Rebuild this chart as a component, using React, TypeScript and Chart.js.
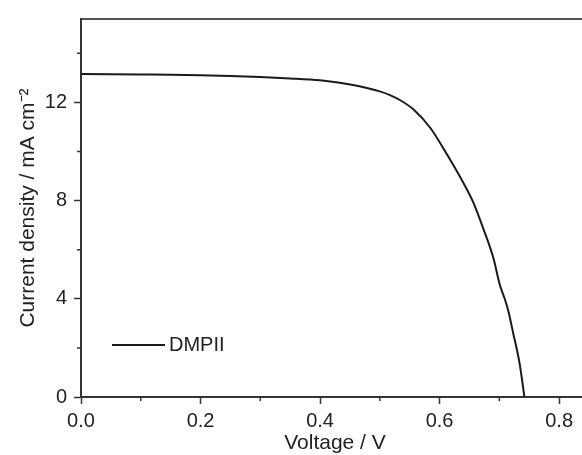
import React, { useEffect, useRef } from "react";
import { Chart, registerables } from "chart.js";

Chart.register(...registerables);

// ---- data ----
const VOLTAGE = [
  0, 0.05, 0.1, 0.15, 0.2, 0.25, 0.3, 0.35, 0.4, 0.43, 0.455, 0.48, 0.5, 0.517,
  0.535, 0.556, 0.584, 0.612, 0.639, 0.656, 0.673, 0.69, 0.701, 0.709, 0.715,
  0.723, 0.734, 0.742,
];
const CURRENT = [
  13.16, 13.15, 13.14, 13.13, 13.11, 13.08, 13.04, 12.98, 12.9, 12.81, 12.71, 12.58,
  12.45, 12.3, 12.08, 11.72, 10.98, 9.9, 8.76, 7.95, 6.87, 5.66, 4.55, 4.0, 3.5,
  2.62, 1.35, 0.0,
];
const SERIES_LABEL = "DMPII";
const X_MAJOR = [0, 0.2, 0.4, 0.6, 0.8];
const X_MINOR = [0.1, 0.3, 0.5, 0.7];
const Y_MAJOR = [0, 4, 8, 12];
const Y_MINOR = [2, 6, 10, 14];
const X_TITLE = "Voltage / V";
const Y_TITLE = "Current density / mA cm\u207B\u00B2";

const FONT = "'Liberation Sans', Arial, Helvetica, sans-serif";
const AXIS_COLOR = "#333";
const TEXT_COLOR = "#222";

const minorTicksPlugin = {
  id: "minorTicks",
  afterDraw(chart: any) {
    const { ctx, chartArea, scales } = chart;
    ctx.save();
    ctx.strokeStyle = AXIS_COLOR;
    ctx.lineWidth = 1.5;
    ctx.beginPath();
    X_MINOR.forEach((v) => {
      const px = scales.x.getPixelForValue(v);
      ctx.moveTo(px, chartArea.bottom);
      ctx.lineTo(px, chartArea.bottom + 4);
    });
    Y_MINOR.forEach((v) => {
      const py = scales.y.getPixelForValue(v);
      ctx.moveTo(chartArea.left, py);
      ctx.lineTo(chartArea.left - 4, py);
    });
    ctx.stroke();
    ctx.restore();
  },
};

const legendPlugin = {
  id: "insideLegend",
  afterDraw(chart: any) {
    const { ctx, chartArea } = chart;
    const ds = chart.data.datasets[0];
    const x0 = chartArea.left + 31;
    const y0 = 345;
    ctx.save();
    ctx.strokeStyle = ds.borderColor;
    ctx.lineWidth = ds.borderWidth;
    ctx.beginPath();
    ctx.moveTo(x0, y0);
    ctx.lineTo(x0 + 53, y0);
    ctx.stroke();
    ctx.fillStyle = TEXT_COLOR;
    ctx.font = `20px ${FONT}`;
    ctx.textBaseline = "middle";
    ctx.textAlign = "left";
    ctx.fillText(ds.label, x0 + 57, y0);
    ctx.restore();
  },
};

export default function App() {
  const ref = useRef<HTMLCanvasElement>(null);

  useEffect(() => {
    if (!ref.current) return;
    const points = VOLTAGE.map((v, i) => ({ x: v, y: CURRENT[i] }));
    const chart = new Chart(ref.current, {
      type: "line",
      data: {
        datasets: [
          {
            label: SERIES_LABEL,
            data: points,
            borderColor: "#1a1a1a",
            borderWidth: 2,
            pointRadius: 0,
            fill: false,
            cubicInterpolationMode: "monotone",
          },
        ],
      },
      options: {
        animation: false,
        responsive: false,
        devicePixelRatio: 1,
        layout: { padding: { left: 0, right: 11, top: 0, bottom: 0 } },
        plugins: {
          legend: { display: false },
          tooltip: { enabled: false },
        },
        scales: {
          x: {
            type: "linear",
            position: "bottom",
            min: 0,
            max: 0.85,
            afterBuildTicks: (s: any) => {
              s.ticks = X_MAJOR.map((v) => ({ value: v }));
            },
            afterFit: (s: any) => {
              s.height = 58;
            },
            ticks: {
              color: TEXT_COLOR,
              font: { family: FONT, size: 20 },
              padding: 5,
              maxRotation: 0,
              autoSkip: false,
              callback: (v: any) => Number(v).toFixed(1),
            },
            grid: {
              drawOnChartArea: false,
              drawTicks: true,
              tickLength: 7,
              tickWidth: 1.5,
              tickColor: AXIS_COLOR,
            },
            border: { display: true, color: AXIS_COLOR, width: 2 },
            title: {
              display: true,
              text: X_TITLE,
              color: TEXT_COLOR,
              font: { family: FONT, size: 21, lineHeight: 1.1 },
              padding: { top: 0, bottom: 0 },
            },
          },
          x2: {
            type: "linear",
            position: "top",
            min: 0,
            max: 0.85,
            afterFit: (s: any) => {
              s.height = 15;
            },
            ticks: { display: false },
            grid: { display: false, drawTicks: false },
            border: { display: true, color: "#555", width: 2 },
          },
          y: {
            type: "linear",
            position: "left",
            min: 0,
            max: 15.4,
            afterBuildTicks: (s: any) => {
              s.ticks = Y_MAJOR.map((v) => ({ value: v }));
            },
            afterFit: (s: any) => {
              s.width = 81;
            },
            ticks: {
              color: TEXT_COLOR,
              font: { family: FONT, size: 20 },
              padding: 7,
              autoSkip: false,
              callback: (v: any) => String(v),
            },
            grid: {
              drawOnChartArea: false,
              drawTicks: true,
              tickLength: 7,
              tickWidth: 1.5,
              tickColor: AXIS_COLOR,
            },
            border: { display: true, color: AXIS_COLOR, width: 2 },
            title: {
              display: true,
              text: Y_TITLE,
              color: TEXT_COLOR,
              font: { family: FONT, size: 21 },
              padding: { top: 16, bottom: 0 },
            },
          },
        },
      },
      plugins: [minorTicksPlugin, legendPlugin],
    });
    return () => chart.destroy();
  }, []);

  return (
    <div
      style={{
        position: "fixed",
        left: 0,
        top: 0,
        width: 582,
        height: 455,
        overflow: "hidden",
        background: "#fff",
      }}
    >
      <canvas ref={ref} width={600} height={455} style={{ display: "block" }} />
    </div>
  );
}
